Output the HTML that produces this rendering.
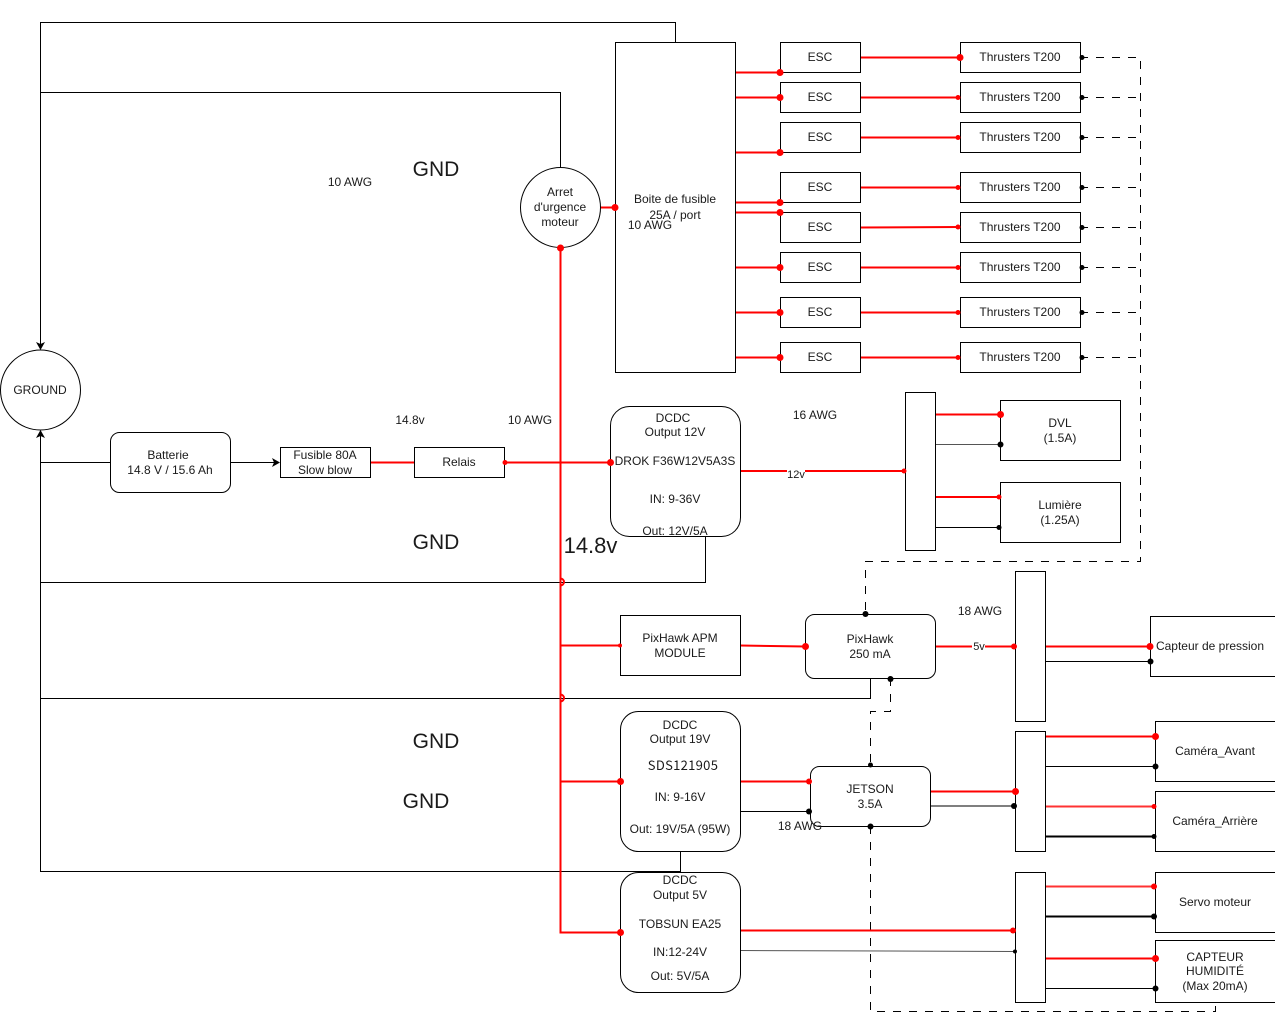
<!DOCTYPE html>
<html>
<head>
<meta charset="utf-8">
<style>
html,body{margin:0;padding:0;background:#fff;width:1275px;height:1020px;overflow:hidden}
svg{display:block}
text{font-family:"Liberation Sans",sans-serif;font-size:12px;fill:#1a1a1a;text-anchor:middle}
.big{font-size:21px}
.b{fill:#fff;stroke:#000;stroke-width:1}
.k{fill:none;stroke:#000;stroke-width:1}
.r{fill:none;stroke:#f00;stroke-width:2}
.d{fill:none;stroke:#000;stroke-width:1;stroke-dasharray:8 8}
.g{fill:none;stroke:#555;stroke-width:1}
.rd{fill:#f00}
.bd{fill:#000}
</style>
</head>
<body>
<svg width="1275" height="1020" viewBox="0 0 1275 1020" xmlns="http://www.w3.org/2000/svg">
<rect width="1275" height="1020" fill="#fff"/>
<!-- ground lines -->
<path class="k" d="M675.5 42V22.5H40.5V344"/>
<path class="k" d="M560.5 167V92.5H40.5"/>
<path class="k" d="M40.5 436V871.5H680.5V852"/>
<path class="k" d="M110 462.5H40.5"/>
<path class="k" d="M230 462.5H274"/>
<path class="k" d="M705.5 536V582.5H40.5"/>
<path class="k" d="M870.5 678V698.5H40.5"/>
<polygon class="bd" points="40.5,350 36,342 40.5,344 45,342"/>
<polygon class="bd" points="40.5,430 36,438 40.5,436 45,438"/>
<polygon class="bd" points="280,462.5 272,458 274,462.5 272,467"/>
<!-- dashed -->
<path class="d" d="M1080 57.5H1140.5V561.5H865.5V614"/>
<path class="d" d="M1080 97.5H1140.5"/>
<path class="d" d="M1080 137.5H1140.5"/>
<path class="d" d="M1080 187.5H1140.5"/>
<path class="d" d="M1080 227.5H1140.5"/>
<path class="d" d="M1080 267.5H1140.5"/>
<path class="d" d="M1080 312.5H1140.5"/>
<path class="d" d="M1080 357.5H1140.5"/>
<path class="d" d="M890.5 678V711.5H870.5V766"/>
<path class="d" d="M870.5 826V1011.5H1215.5V1003"/>
<!-- red main -->
<path class="r" d="M560.5 248V932.5H620"/>
<path class="r" d="M600 207.5H615"/>
<path class="r" d="M370 462.5H414"/>
<path class="r" d="M504 462.5H610"/>
<path class="r" d="M560 645.5H620"/>
<path class="r" d="M560 781.5H620"/>
<path class="r" d="M735 72.5H780M735 97.5H780M735 152.5H780M735 202.5H780M735 212.5H780M735 267.5H780M735 312.5H780M735 357.5H780"/>
<path class="r" d="M860 57.5H960M860 97.5H960M860 137.5H960M860 187.5H960M860 227.5L960 227M860 267.5H960M860 312.5H960M860 357.5H960"/>
<path class="r" d="M740 471H905"/>
<path class="r" d="M935 414.5H1000M935 497H1000"/>
<path class="g" d="M935 444.5H1000"/>
<path class="k" d="M935 527.5H1000"/>
<path class="r" d="M740 645.5L805 646.5"/>
<path class="r" d="M935 646.5H1015"/>
<path class="r" d="M1045 646.5H1150"/>
<path class="k" d="M1045 661.5H1150"/>
<path class="r" d="M740 781.5H810"/>
<path class="k" d="M740 811.5H810"/>
<path class="r" d="M930 791.5H1015"/>
<path class="g" d="M930 806H1015" style="stroke-width:1.5"/>
<path class="r" d="M1045 736.5H1155"/>
<path class="k" d="M1045 766.5H1155"/>
<path class="r" d="M1045 806.5H1155" style="stroke:#f33"/>
<path class="k" d="M1045 836.5H1155" style="stroke-width:2"/>
<path class="r" d="M740 930.5H1015"/>
<path class="g" d="M740 950.5L1015 951.5"/>
<path class="r" d="M1045 886.5H1155" style="stroke:#f33"/>
<path class="k" d="M1045 916.5H1155" style="stroke-width:2"/>
<path class="r" d="M1045 958.5H1155"/>
<path class="k" d="M1045 988.5H1155"/>
<!-- jump arcs -->
<path d="M560.5 578.5a3.5 3.5 0 0 1 0 7" fill="none" stroke="#f00" stroke-width="2"/>
<path d="M560.5 694.5a3.5 3.5 0 0 1 0 7" fill="none" stroke="#f00" stroke-width="2"/>
<!-- nodes -->
<circle class="b" cx="40.5" cy="390" r="40"/>
<text x="40" y="394">GROUND</text>
<rect class="b" x="110.5" y="432.5" width="120" height="60" rx="9"/>
<text x="168" y="459">Batterie</text>
<text x="170" y="474">14.8 V / 15.6 Ah</text>
<rect class="b" x="280.5" y="447.5" width="90" height="30"/>
<text x="325" y="459">Fusible 80A</text>
<text x="325" y="474">Slow blow</text>
<rect class="b" x="414.5" y="447.5" width="90" height="30"/>
<text x="459" y="466">Relais</text>
<circle class="b" cx="560.5" cy="207.5" r="40"/>
<text x="560" y="196">Arret</text>
<text x="560" y="211">d'urgence</text>
<text x="560" y="226">moteur</text>
<rect class="b" x="615.5" y="42.5" width="120" height="330"/>
<text x="675" y="203">Boite de fusible</text>
<text x="675" y="219">25A / port</text>
<!-- ESC -->
<g>
<rect class="b" x="780.5" y="42.5" width="80" height="30"/><text x="820" y="61">ESC</text>
<rect class="b" x="780.5" y="82.5" width="80" height="30"/><text x="820" y="101">ESC</text>
<rect class="b" x="780.5" y="122.5" width="80" height="30"/><text x="820" y="141">ESC</text>
<rect class="b" x="780.5" y="172.5" width="80" height="30"/><text x="820" y="191">ESC</text>
<rect class="b" x="780.5" y="212.5" width="80" height="30"/><text x="820" y="231">ESC</text>
<rect class="b" x="780.5" y="252.5" width="80" height="30"/><text x="820" y="271">ESC</text>
<rect class="b" x="780.5" y="297.5" width="80" height="30"/><text x="820" y="316">ESC</text>
<rect class="b" x="780.5" y="342.5" width="80" height="30"/><text x="820" y="361">ESC</text>
</g>
<g>
<rect class="b" x="960.5" y="42.5" width="120" height="30"/><text x="1020" y="61">Thrusters T200</text>
<rect class="b" x="960.5" y="82.5" width="120" height="30"/><text x="1020" y="101">Thrusters T200</text>
<rect class="b" x="960.5" y="122.5" width="120" height="30"/><text x="1020" y="141">Thrusters T200</text>
<rect class="b" x="960.5" y="172.5" width="120" height="30"/><text x="1020" y="191">Thrusters T200</text>
<rect class="b" x="960.5" y="212.5" width="120" height="30"/><text x="1020" y="231">Thrusters T200</text>
<rect class="b" x="960.5" y="252.5" width="120" height="30"/><text x="1020" y="271">Thrusters T200</text>
<rect class="b" x="960.5" y="297.5" width="120" height="30"/><text x="1020" y="316">Thrusters T200</text>
<rect class="b" x="960.5" y="342.5" width="120" height="30"/><text x="1020" y="361">Thrusters T200</text>
</g>
<!-- DCDC 12 -->
<rect class="b" x="610.5" y="406.5" width="130" height="130" rx="19"/>
<text x="673" y="422">DCDC</text>
<text x="675" y="436">Output 12V</text>
<text x="675" y="465">DROK F36W12V5A3S</text>
<text x="675" y="503">IN: 9-36V</text>
<text x="675" y="535">Out: 12V/5A</text>
<rect class="b" x="905.5" y="392.5" width="30" height="158"/>
<rect class="b" x="1000.5" y="400.5" width="120" height="60"/>
<text x="1060" y="427">DVL</text>
<text x="1060" y="442">(1.5A)</text>
<rect class="b" x="1000.5" y="482.5" width="120" height="60"/>
<text x="1060" y="509">Lumière</text>
<text x="1060" y="524">(1.25A)</text>
<rect class="b" x="620.5" y="615.5" width="120" height="60"/>
<text x="680" y="642">PixHawk APM</text>
<text x="680" y="657">MODULE</text>
<rect class="b" x="805.5" y="614.5" width="130" height="64" rx="9"/>
<text x="870" y="643">PixHawk</text>
<text x="870" y="658">250 mA</text>
<rect class="b" x="1015.5" y="571.5" width="30" height="150"/>
<rect class="b" x="1150.5" y="616.5" width="130" height="60"/>
<text x="1210" y="650">Capteur de pression</text>
<rect class="b" x="620.5" y="711.5" width="120" height="140" rx="18"/>
<text x="680" y="729">DCDC</text>
<text x="680" y="743">Output 19V</text>
<text x="683" y="770" style="font-family:'Noto Sans CJK SC',sans-serif;font-size:13px;letter-spacing:.3px">SDS121905</text>
<text x="680" y="801">IN: 9-16V</text>
<text x="680" y="833">Out:  19V/5A (95W)</text>
<rect class="b" x="810.5" y="766.5" width="120" height="60" rx="9"/>
<text x="870" y="793">JETSON</text>
<text x="870" y="808">3.5A</text>
<rect class="b" x="1015.5" y="731.5" width="30" height="120"/>
<rect class="b" x="1155.5" y="721.5" width="130" height="60"/>
<text x="1215" y="755">Caméra_Avant</text>
<rect class="b" x="1155.5" y="791.5" width="130" height="60"/>
<text x="1215" y="825">Caméra_Arrière</text>
<rect class="b" x="620.5" y="872.5" width="120" height="120" rx="18"/>
<text x="680" y="884">DCDC</text>
<text x="680" y="899">Output 5V</text>
<text x="680" y="928">TOBSUN EA25</text>
<text x="680" y="956">IN:12-24V</text>
<text x="680" y="980">Out:  5V/5A</text>
<rect class="b" x="1015.5" y="872.5" width="30" height="130"/>
<rect class="b" x="1155.5" y="872.5" width="130" height="60"/>
<text x="1215" y="906">Servo moteur</text>
<rect class="b" x="1155.5" y="940.5" width="130" height="62"/>
<text x="1215" y="961">CAPTEUR</text>
<text x="1215" y="975">HUMIDITÉ</text>
<text x="1215" y="990">(Max 20mA)</text>
<!-- red dots -->
<g class="rd">
<circle cx="615" cy="207.5" r="3.5"/><circle cx="560.5" cy="248" r="3.5"/>
<circle cx="780" cy="72.5" r="3.5"/><circle cx="780" cy="97.5" r="3.5"/><circle cx="780" cy="152.5" r="3.5"/><circle cx="780" cy="202.5" r="3.5"/><circle cx="780" cy="212.5" r="3.5"/><circle cx="780" cy="267.5" r="3.5"/><circle cx="780" cy="312.5" r="3.5"/><circle cx="780" cy="357.5" r="3.5"/>
<circle cx="960" cy="57.5" r="3.5"/><circle cx="958" cy="97.5" r="2.5"/><circle cx="958" cy="137.5" r="2.5"/><circle cx="958" cy="187.5" r="2.5"/><circle cx="958" cy="227" r="2.5"/><circle cx="958" cy="267.5" r="2.5"/><circle cx="958" cy="312.5" r="2.5"/><circle cx="958" cy="357.5" r="2.5"/>
<circle cx="505" cy="462.5" r="2.5"/><circle cx="610.5" cy="462.5" r="3.5"/>
<circle cx="904" cy="471" r="2.5"/>
<circle cx="1000.5" cy="414.5" r="3.5"/><circle cx="999" cy="497" r="2.5"/>
<circle cx="620" cy="645.5" r="2"/><circle cx="805.5" cy="646.5" r="3.5"/><circle cx="1014" cy="646.5" r="3"/><circle cx="1150" cy="646.5" r="3.5"/>
<circle cx="620.5" cy="781.5" r="3.5"/><circle cx="809" cy="781.5" r="3"/><circle cx="1015.5" cy="791.5" r="3.5"/>
<circle cx="1155.5" cy="736.5" r="3.5"/><circle cx="1154" cy="806.5" r="2.5"/>
<circle cx="620.5" cy="932.5" r="3.5"/><circle cx="1013" cy="930.5" r="3"/><circle cx="1154" cy="886.5" r="3"/><circle cx="1155.5" cy="958.5" r="3.5"/>
</g>
<!-- black dots -->
<g class="bd">
<circle cx="1082" cy="57.5" r="2.5"/><circle cx="1082" cy="97.5" r="2.5"/><circle cx="1082" cy="137.5" r="2.5"/><circle cx="1082" cy="187.5" r="2.5"/><circle cx="1082" cy="227.5" r="2.5"/><circle cx="1082" cy="267.5" r="2.5"/><circle cx="1082" cy="312.5" r="2.5"/><circle cx="1082" cy="357.5" r="2.5"/>
<circle cx="1000.5" cy="444.5" r="3"/><circle cx="999" cy="527.5" r="2.5"/>
<circle cx="865.5" cy="614" r="3"/><circle cx="890.5" cy="679" r="3"/><circle cx="870.5" cy="765" r="2.5"/><circle cx="870.5" cy="826.5" r="3"/>
<circle cx="809" cy="811.5" r="3"/><circle cx="1014" cy="806" r="3"/><circle cx="1150.5" cy="661.5" r="3"/>
<circle cx="1155.5" cy="766.5" r="3"/><circle cx="1154" cy="836.5" r="2.5"/><circle cx="1154" cy="916.5" r="3"/><circle cx="1155.5" cy="988.5" r="3"/>
<circle cx="1015" cy="951.5" r="2"/>
</g>
<!-- labels -->
<text x="350" y="186">10 AWG</text>
<text class="big" x="436" y="176">GND</text>
<text x="650" y="229">10 AWG</text>
<text x="410" y="424">14.8v</text>
<text x="530" y="424">10 AWG</text>
<text x="815" y="419">16 AWG</text>
<rect x="787" y="467" width="18" height="12" fill="#fff"/>
<text x="796" y="478" style="font-size:11px">12v</text>
<text class="big" x="436" y="549">GND</text>
<text x="590.5" y="553" style="font-size:22px">14.8v</text>
<text x="980" y="615">18 AWG</text>
<rect x="972" y="640" width="13" height="12" fill="#fff"/>
<text x="979" y="650" style="font-size:11px">5v</text>
<text class="big" x="436" y="748">GND</text>
<text class="big" x="426" y="808">GND</text>
<text x="800" y="830">18 AWG</text>
</svg>
</body>
</html>
